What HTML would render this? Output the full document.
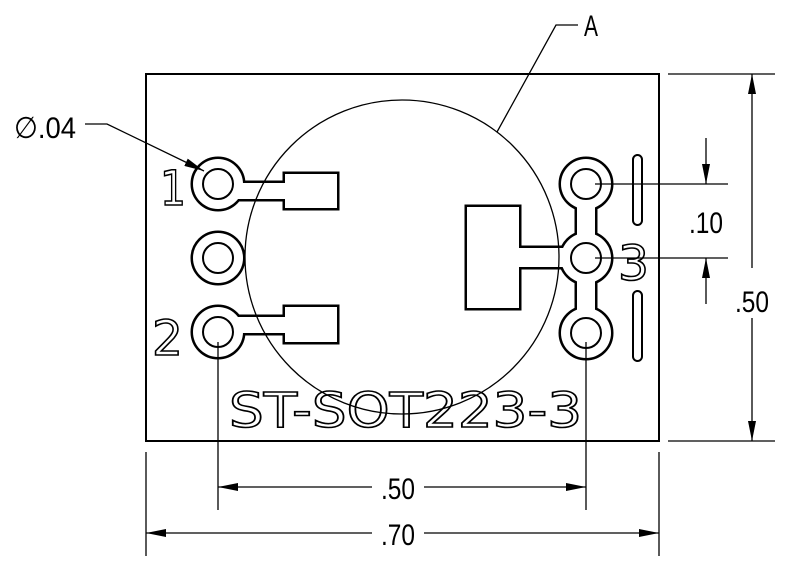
<!DOCTYPE html>
<html><head><style>html,body{margin:0;padding:0;background:#fff}svg{display:block}</style></head>
<body>
<svg width="800" height="565" viewBox="0 0 800 565" xmlns="http://www.w3.org/2000/svg">
<defs>
<marker id="ar" viewBox="0 0 20 8" refX="20" refY="4" markerWidth="20" markerHeight="8" markerUnits="userSpaceOnUse" orient="auto"><path d="M0,0 L20,4 L0,8 z" fill="#000"/></marker>
</defs>
<rect x="146" y="74" width="513" height="367" fill="none" stroke="#000" stroke-width="2"/>
<g stroke="#000" stroke-width="5" fill="#000">
 <circle cx="218" cy="184" r="25"/><rect x="218" y="183" width="68" height="16"/><rect x="285" y="174" width="52" height="34"/>
 <circle cx="218" cy="258" r="25"/>
 <circle cx="218" cy="332" r="25"/><rect x="218" y="317" width="68" height="16"/><rect x="285" y="307" width="52" height="35"/>
 <circle cx="586" cy="184" r="25"/><circle cx="586" cy="258" r="25"/><circle cx="586" cy="333" r="25"/>
 <rect x="577" y="184" width="18" height="149"/><rect x="519" y="248" width="67" height="19"/><rect x="467" y="207" width="52" height="101"/>
</g>
<g fill="#fff">
 <circle cx="218" cy="184" r="25"/><rect x="218" y="183" width="68" height="16"/><rect x="285" y="174" width="52" height="34"/>
 <circle cx="218" cy="258" r="25"/>
 <circle cx="218" cy="332" r="25"/><rect x="218" y="317" width="68" height="16"/><rect x="285" y="307" width="52" height="35"/>
 <circle cx="586" cy="184" r="25"/><circle cx="586" cy="258" r="25"/><circle cx="586" cy="333" r="25"/>
 <rect x="577" y="184" width="18" height="149"/><rect x="519" y="248" width="67" height="19"/><rect x="467" y="207" width="52" height="101"/>
</g>
<g fill="none" stroke="#000" stroke-width="2">
 <circle cx="218" cy="184" r="15"/><circle cx="218" cy="258" r="15"/><circle cx="218" cy="332" r="15"/>
 <circle cx="586" cy="184" r="15"/><circle cx="586" cy="258" r="15"/><circle cx="586" cy="333" r="15"/>
 <rect x="633" y="155" width="9" height="70" rx="4.5"/><rect x="633" y="291" width="9" height="70" rx="4.5"/>
</g>
<g fill="#fff" stroke="#000" stroke-width="1.6" font-family="DejaVu Sans, sans-serif">
 <text x="160" y="205" font-size="48" textLength="26" lengthAdjust="spacingAndGlyphs">1</text>
 <text x="152" y="355" font-size="48" textLength="31" lengthAdjust="spacingAndGlyphs">2</text>
 <text x="618" y="280" font-size="48" textLength="31" lengthAdjust="spacingAndGlyphs">3</text>
 <text x="229" y="427" font-size="48" textLength="353" lengthAdjust="spacingAndGlyphs">ST-SOT223-3</text>
</g>
<circle cx="402" cy="257" r="157" fill="none" stroke="#000" stroke-width="1.3"/>
<g stroke="#000" stroke-width="1.3" fill="none">
 <line x1="668" y1="74" x2="775" y2="74"/><line x1="668" y1="441" x2="775" y2="441"/>
 <line x1="752" y1="268" x2="752" y2="74" marker-end="url(#ar)"/>
 <line x1="752" y1="318" x2="752" y2="441" marker-end="url(#ar)"/>
 <line x1="595" y1="184" x2="728" y2="184"/><line x1="595" y1="258" x2="728" y2="258"/>
 <line x1="706" y1="138" x2="706" y2="184" marker-end="url(#ar)"/>
 <line x1="706" y1="304" x2="706" y2="258" marker-end="url(#ar)"/>
 <line x1="218" y1="342" x2="218" y2="510"/><line x1="586" y1="342" x2="586" y2="510"/>
 <line x1="372" y1="487" x2="218" y2="487" marker-end="url(#ar)"/>
 <line x1="424" y1="487" x2="586" y2="487" marker-end="url(#ar)"/>
 <line x1="146" y1="452" x2="146" y2="556"/><line x1="659" y1="452" x2="659" y2="556"/>
 <line x1="372" y1="533" x2="146" y2="533" marker-end="url(#ar)"/>
 <line x1="424" y1="533" x2="659" y2="533" marker-end="url(#ar)"/>
 <polyline points="85,124 107,124 204,171" marker-end="url(#ar)"/>
 <polyline points="578,25 556,25 497,132"/>
</g>
<g font-family="Liberation Sans, sans-serif" font-size="30" fill="#000" lengthAdjust="spacingAndGlyphs">
 <text x="735" y="312" textLength="34" lengthAdjust="spacingAndGlyphs">.50</text>
 <text x="689" y="233" textLength="34" lengthAdjust="spacingAndGlyphs">.10</text>
 <text x="381" y="499" textLength="34" lengthAdjust="spacingAndGlyphs">.50</text>
 <text x="381" y="545" textLength="34" lengthAdjust="spacingAndGlyphs">.70</text>
 <text x="584" y="36" textLength="14" lengthAdjust="spacingAndGlyphs">A</text>
 <text x="14" y="138" textLength="62" lengthAdjust="spacingAndGlyphs">∅.04</text>
</g>
</svg>
</body></html>
